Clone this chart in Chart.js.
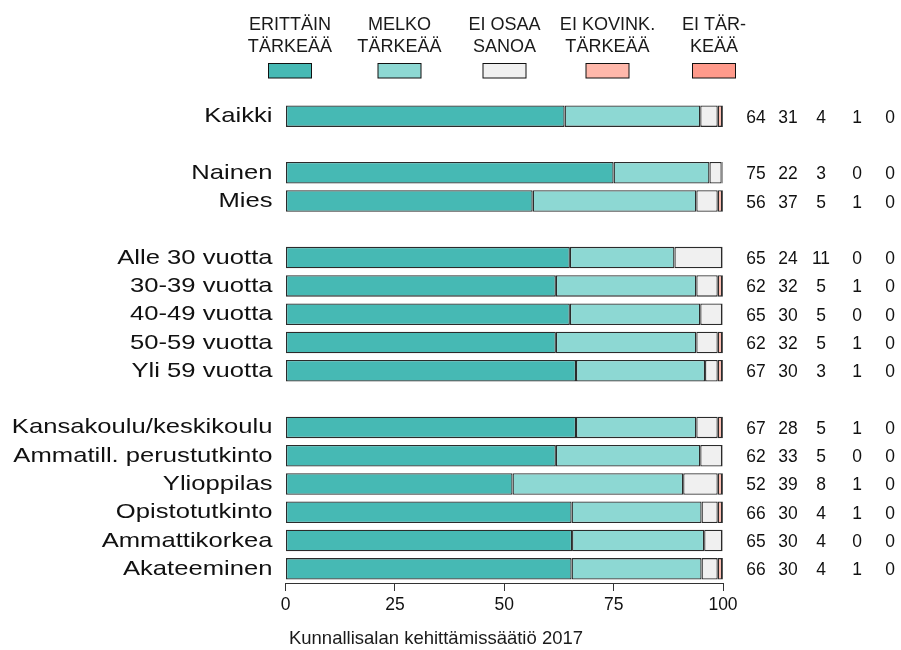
<!DOCTYPE html>
<html>
<head>
<meta charset="utf-8">
<script src="https://cdn.jsdelivr.net/npm/chart.js@4/dist/chart.umd.min.js"></script>
<style>
  html, body { margin: 0; padding: 0; background: #ffffff; }
  #wrap { width: 901px; height: 650px; position: relative; }
</style>
</head>
<body>
<div id="wrap"><canvas id="c" width="901" height="650"></canvas></div>
<script>
// ---- categories (empty strings are spacer rows between groups) ----
const categories = [
  'Kaikki', '',
  'Nainen', 'Mies', '',
  'Alle 30 vuotta', '30-39 vuotta', '40-49 vuotta', '50-59 vuotta', 'Yli 59 vuotta', '',
  'Kansakoulu/keskikoulu', 'Ammatill. perustutkinto', 'Ylioppilas', 'Opistotutkinto', 'Ammattikorkea', 'Akateeminen'
];

// ---- series names (legend, two lines each) ----
const seriesNames = [
  ['ERITTÄIN', 'TÄRKEÄÄ'],
  ['MELKO', 'TÄRKEÄÄ'],
  ['EI OSAA', 'SANOA'],
  ['EI KOVINK.', 'TÄRKEÄÄ'],
  ['EI TÄR-', 'KEÄÄ']
];

// ---- bar values (percent) ----
const erittainTarkeaa = [63.8, null, 75.0, 56.5, null, 65.0, 61.8, 65.0, 61.8, 66.4, null, 66.4, 61.8, 51.9, 65.4, 65.5, 65.4];
const melkoTarkeaa    = [31.0, null, 21.9, 37.4, null, 23.9, 32.1, 29.8, 32.1, 29.5, null, 27.5, 33.0, 39.0, 29.7, 30.2, 29.7];
const eiOsaaSanoa     = [ 4.0, null,  2.8,  4.9, null, 10.9,  4.9,  5.0,  4.9,  2.9, null,  4.9,  5.0,  7.9,  3.7,  4.1,  3.7];
const eiKovinTarkeaa  = [ 1.0, null,  0.2,  1.0, null,  0.1,  1.0,  0.1,  1.0,  1.0, null,  1.0,  0.1,  1.0,  1.0,  0.1,  1.0];
const eiTarkeaa       = [ 0.2, null,  0.1,  0.2, null,  0.1,  0.2,  0.1,  0.2,  0.2, null,  0.2,  0.1,  0.2,  0.2,  0.1,  0.2];

// ---- printed (rounded) values shown at the right ----
const labErittain = ['64', '', '75', '56', '', '65', '62', '65', '62', '67', '', '67', '62', '52', '66', '65', '66'];
const labMelko    = ['31', '', '22', '37', '', '24', '32', '30', '32', '30', '', '28', '33', '39', '30', '30', '30'];
const labEiOsaa   = ['4',  '', '3',  '5',  '', '11', '5',  '5',  '5',  '3',  '', '5',  '5',  '8',  '4',  '4',  '4'];
const labKovin    = ['1',  '', '0',  '1',  '', '0',  '1',  '0',  '1',  '1',  '', '1',  '0',  '1',  '1',  '0',  '1'];
const labEi       = ['0',  '', '0',  '0',  '', '0',  '0',  '0',  '0',  '0',  '', '0',  '0',  '0',  '0',  '0',  '0'];

// ---- x-axis ticks ----
const xTicks = [0, 25, 50, 75, 100];

const footerText = 'Kunnallisalan kehittämissäätiö 2017';

const colors = ['#46b9b4', '#8dd8d3', '#f0f0f0', '#ffb8ab', '#ff9a8b'];
const seriesValues = [erittainTarkeaa, melkoTarkeaa, eiOsaaSanoa, eiKovinTarkeaa, eiTarkeaa];
const valueLabelCols = [labErittain, labMelko, labEiOsaa, labKovin, labEi];

const FONT = "'Liberation Sans', Arial, Helvetica, sans-serif";

const overlay = {
  id: 'overlay',
  afterDraw(chart) {
    const ctx = chart.ctx;
    const y = chart.scales.y;
    const area = chart.chartArea;
    ctx.save();
    ctx.fillStyle = '#111';

    // category labels (horizontally stretched like the original)
    ctx.font = '21px ' + FONT;
    ctx.textAlign = 'right';
    ctx.textBaseline = 'alphabetic';
    categories.forEach((c, i) => {
      if (!c) return;
      const py = y.getPixelForValue(i);
      ctx.save();
      ctx.translate(area.left - 13, py + 6);
      ctx.scale(1.22, 1);
      ctx.fillText(c, 0, 0);
      ctx.restore();
    });

    // value columns on the right
    const colX = [756, 788, 821, 857, 890];
    ctx.font = '18px ' + FONT;
    ctx.textAlign = 'center';
    valueLabelCols.forEach((col, k) => {
      col.forEach((t, i) => {
        if (!t) return;
        const py = y.getPixelForValue(i);
        ctx.save();
        ctx.translate(colX[k], py + 6.5);
        ctx.scale(0.97, 1);
        ctx.fillText(t, 0, 0);
        ctx.restore();
      });
    });

    // legend: two text lines above a colour box
    const legX = [290, 399.5, 504.5, 607.5, 714];
    ctx.font = '19px ' + FONT;
    ctx.fillStyle = '#1a1a1a';
    seriesNames.forEach((lines, k) => {
      lines.forEach((ln, j) => {
        ctx.save();
        ctx.translate(legX[k], 30 + j * 21.7);
        ctx.scale(0.95, 1);
        ctx.fillText(ln, 0, 0);
        ctx.restore();
      });
      ctx.fillStyle = colors[k];
      ctx.fillRect(legX[k] - 21.5, 63.5, 43, 14.5);
      ctx.strokeStyle = '#111';
      ctx.lineWidth = 1;
      ctx.strokeRect(legX[k] - 21.5, 63.5, 43, 14.5);
      ctx.fillStyle = '#1a1a1a';
    });

    // footer
    ctx.font = '18.5px ' + FONT;
    ctx.textAlign = 'center';
    ctx.save();
    ctx.translate(436, 644);
    ctx.fillText(footerText, 0, 0);
    ctx.restore();

    ctx.restore();
  }
};

new Chart(document.getElementById('c'), {
  type: 'bar',
  data: {
    labels: categories,
    datasets: seriesValues.map((vals, k) => ({
      label: seriesNames[k].join(' '),
      data: vals,
      backgroundColor: colors[k],
      borderColor: 'rgba(20,20,20,0.9)',
      borderWidth: 1.3,
      borderSkipped: false,
      categoryPercentage: 1,
      barPercentage: 0.76
    }))
  },
  options: {
    indexAxis: 'y',
    responsive: false,
    animation: false,
    devicePixelRatio: 1,
    layout: { padding: { top: 102, right: 178, bottom: 0, left: 0 } },
    plugins: {
      legend: { display: false },
      tooltip: { enabled: false },
      title: { display: false }
    },
    scales: {
      x: {
        stacked: true,
        min: 0,
        max: 100,
        afterBuildTicks(s) { s.ticks = xTicks.map(v => ({ value: v })); },
        afterFit(s) { s.height = 67; },
        grid: { display: true, drawOnChartArea: false, drawTicks: true, tickLength: 8, color: '#333', lineWidth: 1 },
        border: { display: true, color: '#333', width: 1 },
        ticks: { color: '#111', font: { size: 17.5, family: FONT }, padding: 4, maxRotation: 0 }
      },
      y: {
        stacked: true,
        afterFit(s) { s.width = 285.5; },
        grid: { display: false },
        border: { display: false },
        ticks: { display: false }
      }
    }
  },
  plugins: [overlay]
});
</script>
</body>
</html>
